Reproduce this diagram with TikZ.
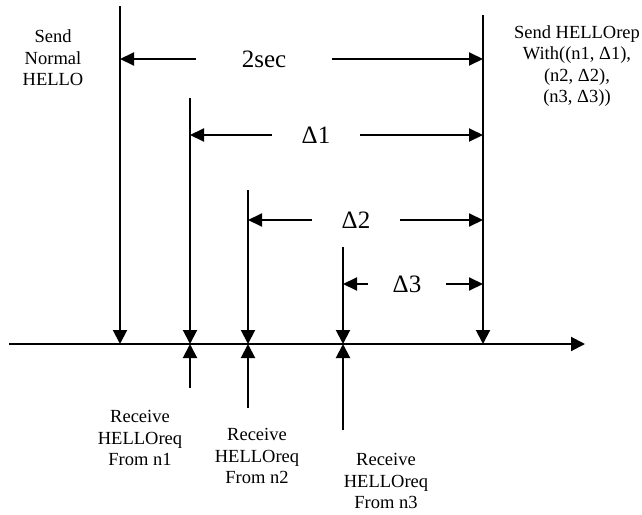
\documentclass[tikz,border=0pt]{standalone}
\usepackage{fontspec}
\setmainfont{Liberation Serif}
\usetikzlibrary{positioning,arrows.meta}

\begin{document}
\begin{tikzpicture}[x=1pt,y=-1pt,
        every node/.style = {inner sep=0pt,outer sep=0pt},
        timeline/.style = {line width=2pt,-{Triangle[length=14pt,width=14pt]}},
        span/.style = {line width=2pt,-{Triangle[length=14pt,width=13pt]}},
        note/.style = {align=center,font=\fontsize{18.5}{21.5}\selectfont},
        gap/.style = {font=\fontsize{25}{28}\selectfont,minimum height=20pt},
        ]
        \useasboundingbox (0,0) rectangle (642,514);
        % time axis
        \coordinate (axis-start) at (9,344);
        \coordinate (axis-end) at (585,344);
        \coordinate (hit-0) at (120,344);
        \coordinate (hit-1) at (190,344);
        \coordinate (hit-2) at (248,344);
        \coordinate (hit-3) at (343,344);
        \coordinate (hit-4) at (483,344);
        \coordinate (top-0) at (120,6);
        \coordinate (top-1) at (190,98);
        \coordinate (top-2) at (248,190);
        \coordinate (top-3) at (343,247);
        \coordinate (top-4) at (483,15);
        \coordinate (foot-1) at (190,388);
        \coordinate (foot-2) at (248,408);
        \coordinate (foot-3) at (343,430);
        \draw[timeline] (axis-start) -- (axis-end);
        \draw[timeline] (top-0) -- (hit-0);
        \draw[timeline] (top-1) -- (hit-1);
        \draw[timeline] (top-2) -- (hit-2);
        \draw[timeline] (top-3) -- (hit-3);
        \draw[timeline] (top-4) -- (hit-4);
        \draw[timeline] (foot-1) -- (hit-1);
        \draw[timeline] (foot-2) -- (hit-2);
        \draw[timeline] (foot-3) -- (hit-3);
        % intervals
        \node[gap,minimum width=136pt] (gap-2sec) at (264,59) {2sec};
        \node[gap,minimum width=88pt] (gap-d1) at (316,135) {Δ1};
        \node[gap,minimum width=88pt] (gap-d2) at (356,220) {Δ2};
        \node[gap,minimum width=78pt] (gap-d3) at (407,284) {Δ3};
        \draw[span] (gap-2sec.west) -- (gap-2sec.west -| hit-0);
        \draw[span] (gap-2sec.east) -- (gap-2sec.east -| hit-4);
        \draw[span] (gap-d1.west) -- (gap-d1.west -| hit-1);
        \draw[span] (gap-d1.east) -- (gap-d1.east -| hit-4);
        \draw[span] (gap-d2.west) -- (gap-d2.west -| hit-2);
        \draw[span] (gap-d2.east) -- (gap-d2.east -| hit-4);
        \draw[span] (gap-d3.west) -- (gap-d3.west -| hit-3);
        \draw[span] (gap-d3.east) -- (gap-d3.east -| hit-4);
        % events
        \node[note] (send-normal) at (53,58) {Send\\Normal\\HELLO};
        \node[note] (send-rep) at (577,66) {Send HELLOrep\\With((n1, Δ1),\\(n2, Δ2),\\(n3, Δ3))};
        \node[note] (recv-1) at (140,438) {Receive\\HELLOreq\\From n1};
        \node[note] (recv-2) at (257,456) {Receive\\HELLOreq\\From n2};
        \node[note] (recv-3) at (386,481) {Receive\\HELLOreq\\From n3};
    \end{tikzpicture}
\end{document}
